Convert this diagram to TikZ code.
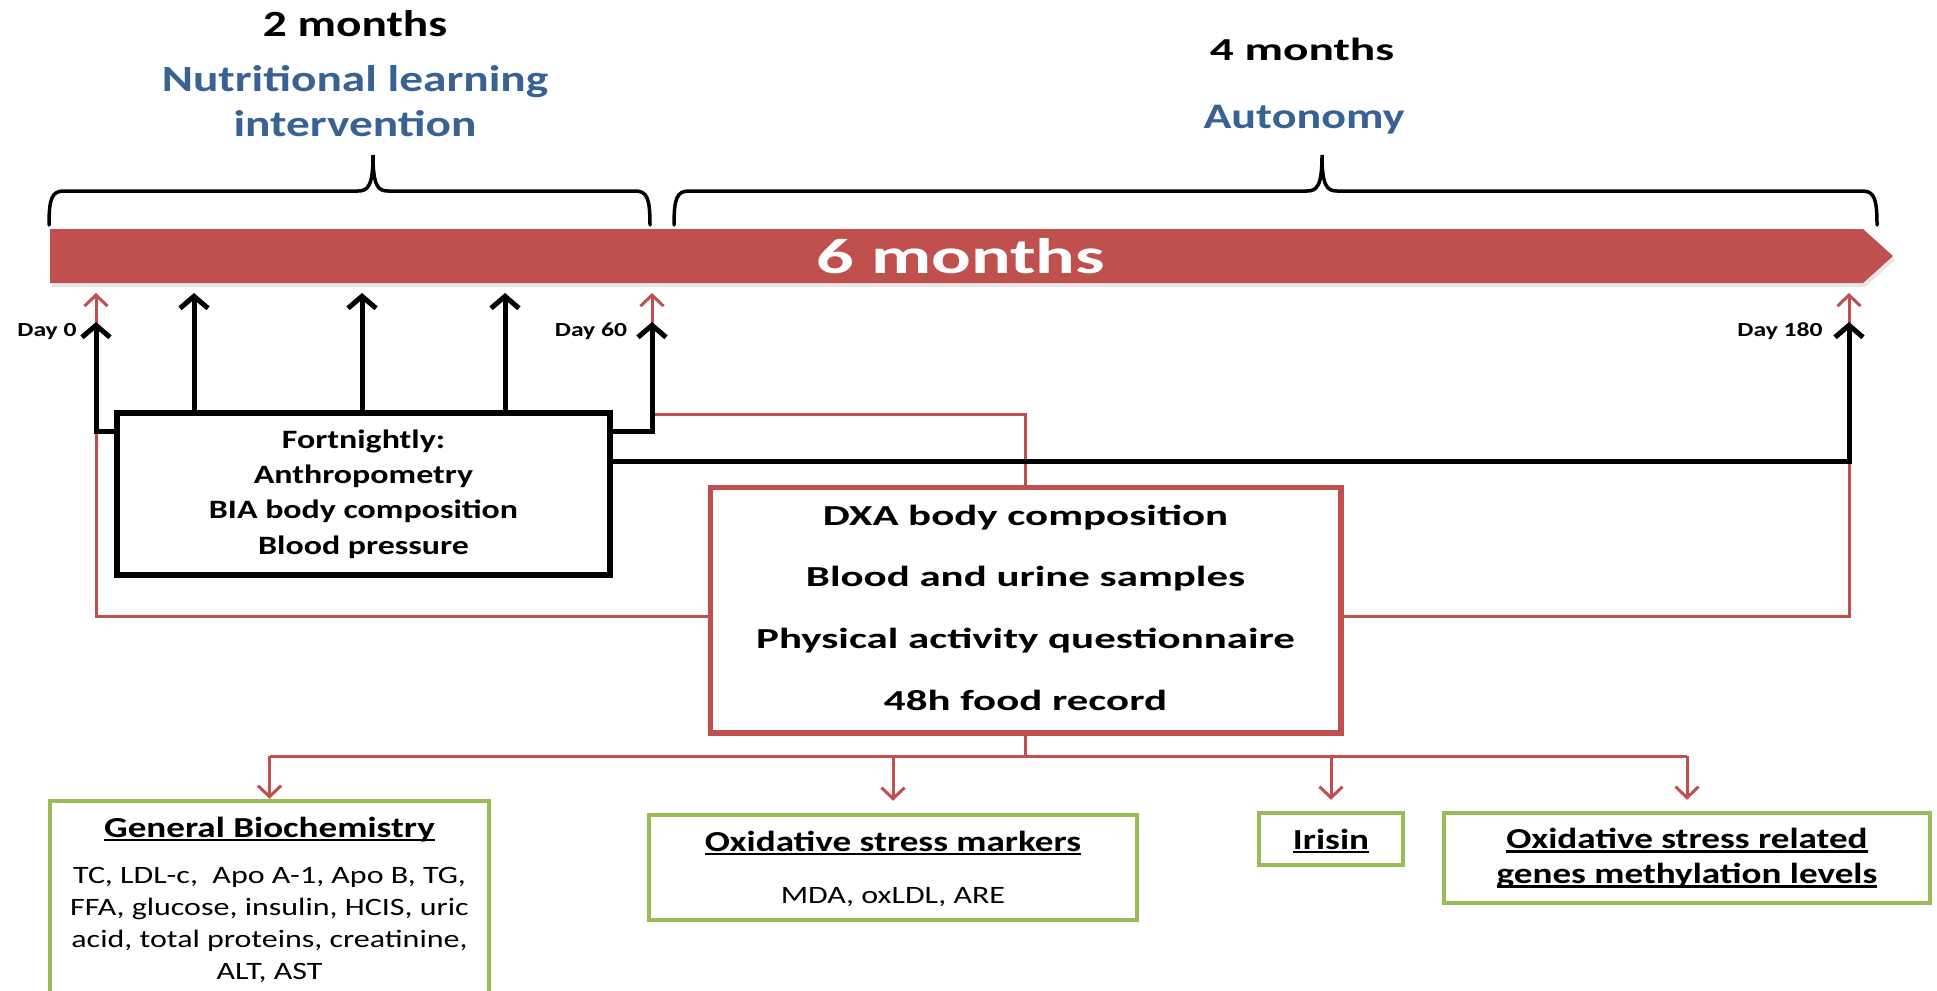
\documentclass[tikz,border=0pt]{standalone}
\usepackage{fontspec}
\setmainfont{Carlito}[FakeStretch=1.28]
\newfontfamily\widefont{Carlito}[FakeStretch=1.48]
\usetikzlibrary{arrows.meta,calc}
\definecolor{redc}{RGB}{192,80,77}
\definecolor{bluec}{RGB}{56,98,148}
\definecolor{greenc}{RGB}{155,187,89}
\newsavebox\ulbox
\newcommand{\ulx}[1]{\sbox\ulbox{#1}\rlap{\smash{\rule[-0.15em]{\wd\ulbox}{0.075em}}}\usebox\ulbox}
\newcommand{\fsz}[2]{\fontsize{#1}{#2}\selectfont}
\begin{document}
\begin{tikzpicture}[x=1pt,y=-1pt,
  txt/.style={inner sep=0pt, outer sep=0pt},
  blk/.style={line width=5pt, draw=black, -{Straight Barb[length=12pt,width=28pt]}},
  redarr/.style={line width=3pt, draw=redc, -{Straight Barb[length=11pt,width=23pt]}},
  redln/.style={line width=3pt, draw=redc},
  brc/.style={line width=3.5pt, draw=black, line cap=round},
  fbox/.style={draw=black, line width=4pt, fill=white, inner sep=0pt, align=center},
  dbox/.style={draw=redc, line width=3.5pt, fill=white, inner sep=0pt, align=center},
  gbox/.style={draw=greenc, line width=4.5pt, fill=white, inner sep=0pt, align=center}]
\useasboundingbox (0,0) rectangle (1937,990);
\clip (0,0) rectangle (1937,990);
\fill[white] (0,0) rectangle (1937,990);

% headings
\node[txt, anchor=base, font=\bfseries\fsz{37}{44}] (m2) at (355,37) {2 months};
\node[txt, align=center, text=bluec, font=\bfseries\fsz{37}{45}] (nli) at (355,101.5) {Nutritional learning\\intervention};
\node[txt, anchor=base, font=\widefont\bfseries\fsz{32}{38}] (m4) at (1302,60) {4 months};
\node[txt, anchor=base, text=bluec, font=\bfseries\fsz{36}{43}] (aut) at (1304,128) {Autonomy};

% braces
\draw[brc] (49,225) .. controls (49,198) and (52,191) .. (64,191) -- (358,191)
  .. controls (368,191) and (373,186) .. (373,155)
  .. controls (373,186) and (378,191) .. (388,191) -- (635,191)
  .. controls (647,191) and (650,198) .. (650,225);
\draw[brc] (674,225) .. controls (674,198) and (677,191) .. (689,191) -- (1307,191)
  .. controls (1317,191) and (1322,186) .. (1322,155)
  .. controls (1322,186) and (1327,191) .. (1337,191) -- (1862,191)
  .. controls (1874,191) and (1877,198) .. (1877,225);

% bar
\fill[black, opacity=0.10] (52,233) -- (1865,233) -- (1895,260) -- (1865,287) -- (52,287) -- cycle;
\fill[redc] (50,229) -- (1863,229) -- (1893,256) -- (1863,283) -- (50,283) -- cycle;
\node[txt, anchor=base, text=white, font=\widefont\bfseries\fsz{50}{60}] (six) at (961,273) {6 months};

% boxes
\node[fbox, minimum width=491pt, minimum height=160pt, font=\bfseries\fsz{26.5}{35.3}] (fort) at (363.5,494)
  {Fortnightly:\\Anthropometry\\BIA body composition\\Blood pressure};
\node[dbox, minimum width=629pt, minimum height=244pt, text depth=5pt, font=\widefont\bfseries\fsz{29}{61.7}] (dxa) at (1025.5,610)
  {DXA body composition\\Blood and urine samples\\Physical activity questionnaire\\48h food record};

\node[gbox, minimum width=439pt, minimum height=210pt] (gen) at (269.5,906) {};
\node[gbox, minimum width=488pt, minimum height=105pt] (ox) at (893,867.5) {};
\node[gbox, minimum width=144pt, minimum height=52pt, font=\bfseries\fsz{29}{35}] (iri) at (1331,839) {\ulx{Irisin}};
\node[gbox, minimum width=486pt, minimum height=90pt, font=\bfseries\fsz{29}{35}] (meth) at (1687,858)
  {\ulx{Oxidative stress related}\\\ulx{genes methylation levels}};

\node[txt, anchor=base, font=\bfseries\fsz{29}{35}] (gent) at (269.5,837) {\ulx{General Biochemistry}};
\node[txt, align=center, font=\fsz{25}{32}] (genb) at (269.5,925)
  {TC, LDL-c,\ \ Apo A-1, Apo B, TG,\\FFA, glucose, insulin, HCIS, uric\\acid, total proteins, creatinine,\\ALT, AST};
\node[txt, anchor=base, font=\bfseries\fsz{29}{35}] (oxt) at (893,851) {\ulx{Oxidative stress markers}};
\node[txt, anchor=base, font=\fsz{25}{30}] (oxb) at (893,903) {MDA, oxLDL, ARE};

% day labels
\node[txt, anchor=base, font=\bfseries\fsz{20}{24}] (l0) at (47,336) {Day 0};
\node[txt, anchor=base, font=\bfseries\fsz{20}{24}] (l60) at (591,336) {Day 60};
\node[txt, anchor=base, font=\bfseries\fsz{20}{24}] (l180) at (1780,336) {Day 180};

% helper coordinates
\coordinate (by1) at (0,431);
\coordinate (by2) at (0,461);
\coordinate (ry) at (0,616);
\coordinate (rtop) at (0,414);
\coordinate (hb) at (0,756);
\coordinate (d0b) at (96,322);
\coordinate (d0r) at (96,293);
\coordinate (d60b) at (652,322);
\coordinate (d60r) at (652,293);
\coordinate (d180b) at (1849,322);
\coordinate (d180r) at (1849,293);
\coordinate (f1) at (194,293);
\coordinate (f2) at (362,293);
\coordinate (f3) at (505,293);

% red connectors
\draw[redarr] (dxa.west |- ry) -| (d0r);
\draw[redarr] (dxa.north) |- (d60r |- rtop) -- (d60r);
\draw[redarr] (dxa.east |- ry) -| (d180r);
\draw[redln] (dxa.south) -- (dxa.south |- hb);
\draw[redln] (gen.north |- hb) -- (meth.north |- hb);
\draw[redarr] (gen.north |- hb) -- (gen.north);
\draw[redarr] (ox.north |- hb) -- ($(ox.north)+(0,-12)$);
\draw[redarr] (iri.north |- hb) -- ($(iri.north)+(0,-11)$);
\draw[redarr] (meth.north |- hb) -- ($(meth.north)+(0,-11)$);

% black connectors
\draw[blk] (fort.west |- by1) -| (d0b);
\draw[blk] (fort.north -| f1) -- (f1);
\draw[blk] (fort.north -| f2) -- (f2);
\draw[blk] (fort.north -| f3) -- (f3);
\draw[blk] (fort.east |- by1) -| (d60b);
\draw[blk] (fort.east |- by2) -| (d180b);

% redraw box borders on top
\draw[black, line width=4pt] (fort.north west) rectangle (fort.south east);
\draw[redc, line width=3.5pt] (dxa.north west) rectangle (dxa.south east);
\end{tikzpicture}
\end{document}
